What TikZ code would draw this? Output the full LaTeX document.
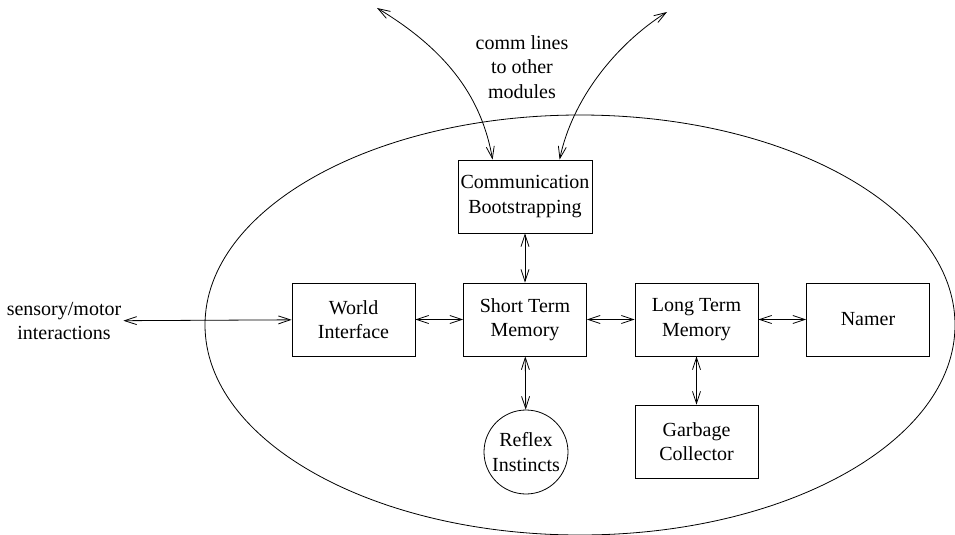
\documentclass[tikz,border=0pt]{standalone}
\usepackage{fontspec}
\setmainfont{Liberation Serif}
\usetikzlibrary{arrows.meta}
\begin{document}
\begin{tikzpicture}[x=1pt,y=-1pt,
  every node/.style={font=\fontsize{20}{24.5}\selectfont, align=center},
  module/.style={draw, line width=0.8pt, rectangle, inner sep=0pt,
                 minimum width=123pt, minimum height=73pt},
  roundmod/.style={draw, line width=0.8pt, circle, inner sep=0pt, minimum size=84pt},
  link/.style={line width=0.8pt, {Straight Barb[length=12pt,width=8pt]}-{Straight Barb[length=12pt,width=8pt]}}
]
\useasboundingbox (0,0) rectangle (955,535);

% agent boundary
\draw[line width=0.8pt] (580,325) ellipse [x radius=375, y radius=210];

% modules
\node[module, minimum width=134pt] (comm) at (525,196.5) {Communication\\Bootstrapping};
\node[module] (wi)  at (353.5,319.5) {World\\Interface};
\node[module] (stm) at (525,319.5) {Short Term\\Memory};
\node[module] (ltm) at (696.5,319.5) {Long Term\\Memory};
\node[module] (namer) at (868,319.5) {Namer};
\node[module] (gc)  at (696.5,441.5) {Garbage\\Collector};
\node[roundmod] (reflex) at (526,452) {Reflex\\Instincts};

% outside labels
\node[inner sep=2pt] (sensory) at (64,321) {sensory/motor\\interactions};
\node (commtxt) at (522,67) {comm lines\\to other\\modules};

% free ends of the comm lines
\coordinate (tl) at (377,8);
\coordinate (tr) at (667,12);

% connectors
\draw[link] (sensory) -- (wi);
\draw[link] (wi) -- (stm);
\draw[link] (stm) -- (ltm);
\draw[link] (ltm) -- (namer);
\draw[link] (comm) -- (stm);
\draw[link] (stm) -- (reflex);
\draw[link] (ltm) -- (gc);
\draw[link] (tl) .. controls (450,52) and (482,100) .. ([xshift=35pt]comm.north west);
\draw[link] (tr) .. controls (615,45) and (572,100) .. ([xshift=102pt]comm.north west);
\end{tikzpicture}
\end{document}
